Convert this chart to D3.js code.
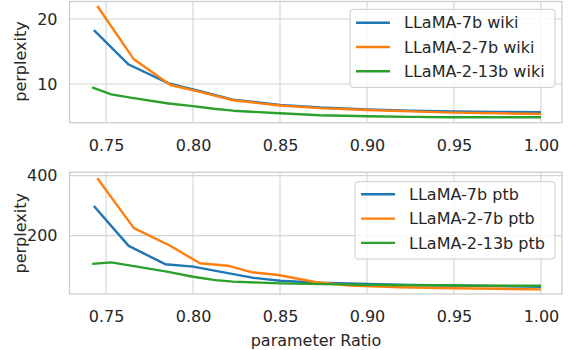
<!DOCTYPE html>
<html><head><meta charset="utf-8">
<script src="https://cdn.jsdelivr.net/npm/d3@7"></script>
<style>body{margin:0;background:#fff}svg{display:block}text{font-family:"DejaVu Sans",sans-serif;fill:#262626}</style>
</head><body><svg id="c" width="568" height="350"></svg>
<script>
// ---- data ----
const xTicks = [0.75, 0.80, 0.85, 0.90, 0.95, 1.00];
const wikiTicks = [10, 20];
const ptbTicks = [200, 400];
const seriesNamesWiki = ["LLaMA-7b wiki", "LLaMA-2-7b wiki", "LLaMA-2-13b wiki"];
const seriesNamesPtb = ["LLaMA-7b ptb", "LLaMA-2-7b ptb", "LLaMA-2-13b ptb"];
const colors = ["#1f77b4", "#ff7f0e", "#2ca02c"];

const wiki7bX   = [0.743, 0.763, 0.786, 0.804, 0.823, 0.850, 0.873, 0.900, 0.925, 0.950, 0.975, 1.000];
const wiki7bY   = [18.3, 13.0, 10.1, 8.9, 7.6, 6.8, 6.4, 6.1, 5.9, 5.8, 5.7, 5.65];
const wiki27bX  = [0.745, 0.766, 0.787, 0.804, 0.823, 0.850, 0.873, 0.900, 0.925, 0.950, 0.975, 1.000];
const wiki27bY  = [22.0, 13.8, 9.85, 8.8, 7.5, 6.7, 6.3, 6.0, 5.8, 5.6, 5.5, 5.4];
const wiki213bX = [0.742, 0.753, 0.764, 0.786, 0.800, 0.812, 0.823, 0.850, 0.873, 0.900, 0.925, 0.950, 0.975, 1.000];
const wiki213bY = [9.5, 8.4, 7.9, 7.0, 6.6, 6.2, 5.9, 5.5, 5.2, 5.05, 4.95, 4.9, 4.88, 4.88];

const ptb7bX   = [0.743, 0.763, 0.784, 0.800, 0.834, 0.850, 0.873, 0.900, 0.925, 0.950, 0.975, 1.000];
const ptb7bY   = [299, 166, 105, 97, 60, 50, 43, 39, 36, 34, 32, 30];
const ptb27bX  = [0.745, 0.766, 0.786, 0.804, 0.820, 0.834, 0.849, 0.871, 0.890, 0.919, 0.950, 0.975, 1.000];
const ptb27bY  = [391, 225, 169, 108, 100, 78, 69, 45, 34, 28, 25, 23, 21];
const ptb213bX = [0.742, 0.753, 0.785, 0.800, 0.813, 0.823, 0.850, 0.900, 0.950, 1.000];
const ptb213bY = [106, 111, 80, 63, 52, 47, 41, 36, 34, 33];

// ---- drawing ----
const svg = d3.select("#c");
const x = d3.scaleLinear().domain([0.729, 1.0121]).range([69.5, 562]);

function panel(top, bottom, yDomain, yTicks, xs, ys, names, legendBox, labelY) {
  const y = d3.scaleLinear().domain(yDomain).range([bottom, top]);
  const g = svg.append("g");
  // grid
  g.selectAll(".gx").data(xTicks).enter().append("line")
    .attr("x1", d => x(d)).attr("x2", d => x(d)).attr("y1", top).attr("y2", bottom)
    .attr("stroke", "#d4d4d4").attr("stroke-width", 1.1);
  g.selectAll(".gy").data(yTicks).enter().append("line")
    .attr("x1", x.range()[0]).attr("x2", x.range()[1]).attr("y1", d => y(d)).attr("y2", d => y(d))
    .attr("stroke", "#d4d4d4").attr("stroke-width", 1.1);
  g.append("rect").attr("x", x.range()[0]).attr("y", top)
    .attr("width", x.range()[1] - x.range()[0]).attr("height", bottom - top)
    .attr("fill", "none").attr("stroke", "#cccccc").attr("stroke-width", 1.25);
  // axes
  const ax = g.append("g").attr("transform", `translate(0,${bottom})`)
    .call(d3.axisBottom(x).tickValues(xTicks).tickFormat(d3.format(".2f")).tickSize(0).tickPadding(17));
  const ay = g.append("g").attr("transform", `translate(${x.range()[0]},0)`)
    .call(d3.axisLeft(y).tickValues(yTicks).tickSize(0).tickPadding(12));
  [ax, ay].forEach(a => {
    a.select(".domain").remove();
    a.selectAll("text").attr("font-size", 16).attr("font-family", "DejaVu Sans").attr("fill", "#262626");
  });
  g.append("text").attr("transform", `translate(25.5,${labelY}) rotate(-90)`)
    .attr("text-anchor", "middle").attr("font-size", 16).text("perplexity");
  // lines
  const line = d3.line().x(d => x(d[0])).y(d => y(d[1]));
  xs.forEach((xv, i) => {
    g.append("path").datum(xv.map((v, j) => [v, ys[i][j]]))
      .attr("d", line).attr("fill", "none").attr("stroke", colors[i])
      .attr("stroke-width", 2.4).attr("stroke-linejoin", "round");
  });
  // legend
  const lg = g.append("g").attr("transform", `translate(${legendBox[0]},${legendBox[1]})`);
  lg.append("rect").attr("width", legendBox[2]).attr("height", legendBox[3]).attr("rx", 3)
    .attr("fill", "#ffffff").attr("fill-opacity", 0.8).attr("stroke", "#cccccc").attr("stroke-width", 1);
  names.forEach((n, i) => {
    const cy = legendBox[4] + i * 24.3;
    lg.append("line").attr("x1", 6).attr("x2", 40).attr("y1", cy).attr("y2", cy)
      .attr("stroke", colors[i]).attr("stroke-width", 2.4);
    lg.append("text").attr("x", 54).attr("y", cy).attr("dy", "0.36em")
      .attr("font-size", 16).text(n);
  });
}

panel(1.5, 122.7, [4.05, 22.7], wikiTicks,
  [wiki7bX, wiki27bX, wiki213bX], [wiki7bY, wiki27bY, wiki213bY], seriesNamesWiki,
  [350, 9.3, 205, 78, 13.4], 61.5);
panel(172.3, 294, [5.7, 411], ptbTicks,
  [ptb7bX, ptb27bX, ptb213bX], [ptb7bY, ptb27bY, ptb213bY], seriesNamesPtb,
  [355, 181.7, 200, 77.3, 12.6], 233.3);

svg.append("text").attr("x", 316).attr("y", 345.5).attr("text-anchor", "middle")
  .attr("font-size", 16).text("parameter Ratio");
</script></body></html>
